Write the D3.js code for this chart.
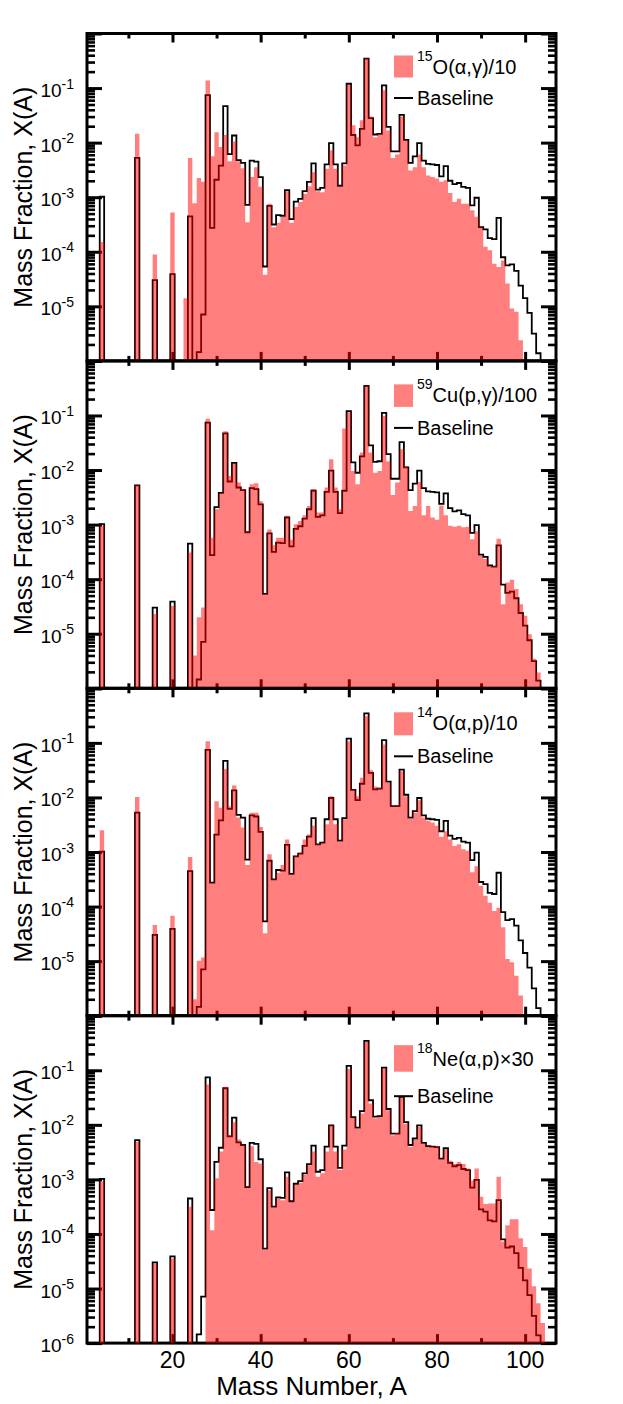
<!DOCTYPE html>
<html>
<head>
<meta charset="utf-8">
<script src="https://cdn.jsdelivr.net/npm/d3@7"></script>
<style>
body { margin: 0; background: #fff; }
svg { display: block; font-family: "Liberation Sans", Arial, Helvetica, sans-serif; }
</style>
</head>
<body>
<svg width="623" height="1404"></svg>
<script>
// mass numbers that carry a value in at least one run (0 = below plot floor)
const massNumber = [4, 12, 16, 20, 23, 24, 25, 26, 27,
  28, 29, 30, 31, 32, 33, 34, 35, 36, 37,
  38, 39, 40, 41, 42, 43, 44, 45, 46, 47,
  48, 49, 50, 51, 52, 53, 54, 55, 56, 57,
  58, 59, 60, 61, 62, 63, 64, 65, 66, 67,
  68, 69, 70, 71, 72, 73, 74, 75, 76, 77,
  78, 79, 80, 81, 82, 83, 84, 85, 86, 87,
  88, 89, 90, 91, 92, 93, 94, 95, 96, 97,
  98, 99, 100, 101, 102, 103, 104];

const baseline = [1.02e-3, 5.25e-3, 3.02e-5, 3.89e-5, 0, 4.47e-4, 0, 1.45e-6, 7.08e-6,
  7.41e-2, 2.75e-4, 2.09e-3, 3.80e-3, 4.68e-2, 6.17e-3, 1.35e-2, 4.79e-3, 4.27e-3, 7.24e-4,
  4.68e-3, 4.47e-3, 2.34e-3, 5.37e-5, 6.92e-4, 3.16e-4, 4.68e-4, 4.57e-4, 1.35e-3, 3.98e-4,
  8.32e-4, 9.33e-4, 1.29e-3, 1.91e-3, 4.17e-3, 1.38e-3, 1.48e-3, 3.98e-3, 9.77e-3, 3.98e-3,
  1.62e-3, 4.17e-3, 1.20e-1, 1.38e-2, 8.91e-3, 1.78e-2, 3.47e-1, 2.82e-2, 1.41e-2, 1.45e-2,
  1.12e-1, 1.95e-2, 6.92e-3, 6.92e-3, 3.24e-2, 1.12e-2, 4.27e-3, 5.62e-3, 9.77e-3, 4.68e-3,
  4.07e-3, 3.98e-3, 3.89e-3, 2.40e-3, 3.72e-3, 2.00e-3, 1.74e-3, 1.82e-3, 1.55e-3, 1.48e-3,
  7.08e-4, 9.77e-4, 2.82e-4, 2.57e-4, 1.78e-4, 1.70e-4, 4.17e-4, 7.94e-5, 5.62e-5, 5.89e-5,
  4.47e-5, 2.40e-5, 1.41e-5, 7.59e-6, 3.16e-6, 1.38e-6, 0];

const o15ag = [1.51e-4, 1.45e-2, 8.91e-5, 5.25e-4, 1.41e-5, 5.25e-3, 7.76e-4, 2.24e-3, 1.91e-3,
  1.38e-1, 5.62e-3, 1.55e-2, 8.32e-3, 1.38e-2, 4.57e-3, 1.05e-2, 4.57e-3, 3.39e-3, 3.47e-4,
  2.34e-3, 3.55e-3, 1.55e-3, 3.80e-5, 7.59e-4, 2.82e-4, 3.39e-4, 4.37e-4, 1.29e-3, 3.39e-4,
  6.61e-4, 8.13e-4, 1.15e-3, 1.58e-3, 2.88e-3, 1.29e-3, 1.23e-3, 3.31e-3, 7.24e-3, 3.31e-3,
  1.55e-3, 3.80e-3, 1.15e-1, 2.09e-2, 1.26e-2, 2.57e-2, 3.47e-1, 3.02e-2, 1.26e-2, 1.45e-2,
  9.12e-2, 1.66e-2, 5.25e-3, 6.03e-3, 3.02e-2, 1.10e-2, 3.09e-3, 3.55e-3, 6.03e-3, 3.55e-3,
  2.51e-3, 2.34e-3, 2.19e-3, 1.91e-3, 2.04e-3, 1.20e-3, 8.13e-4, 9.33e-4, 7.59e-4, 7.59e-4,
  5.75e-4, 4.37e-4, 2.82e-4, 1.23e-4, 1.07e-4, 6.03e-5, 5.25e-5, 6.92e-5, 2.63e-5, 9.12e-6,
  7.94e-6, 2.40e-6, 0, 0, 0, 0, 0];

const cu59pg = [9.55e-4, 5.25e-3, 2.29e-5, 3.24e-5, 0, 3.09e-4, 3.98e-6, 2.00e-5, 3.02e-5,
  8.71e-2, 5.75e-4, 1.91e-3, 3.72e-3, 5.13e-2, 7.76e-3, 1.32e-2, 5.89e-3, 4.47e-3, 7.41e-4,
  5.50e-3, 5.75e-3, 2.69e-3, 5.37e-5, 8.13e-4, 4.17e-4, 5.75e-4, 5.75e-4, 1.45e-3, 5.25e-4,
  1.02e-3, 1.17e-3, 1.48e-3, 2.19e-3, 4.47e-3, 1.66e-3, 1.66e-3, 4.79e-3, 1.58e-2, 4.79e-3,
  1.91e-3, 5.75e-2, 1.15e-1, 9.55e-3, 5.50e-3, 2.09e-2, 3.55e-1, 2.09e-2, 8.91e-3, 9.55e-3,
  9.77e-2, 1.45e-2, 3.47e-3, 5.89e-3, 2.40e-2, 1.17e-2, 1.78e-3, 2.19e-3, 6.03e-3, 1.48e-3,
  2.19e-3, 1.35e-3, 1.23e-3, 2.24e-3, 1.48e-3, 9.55e-4, 9.12e-4, 9.55e-4, 8.91e-4, 9.12e-4,
  5.37e-4, 7.59e-4, 2.69e-4, 2.34e-4, 1.74e-4, 1.74e-4, 5.50e-4, 3.47e-5, 8.71e-5, 9.77e-5,
  6.61e-5, 3.47e-5, 2.14e-5, 9.77e-6, 3.47e-6, 1.95e-6, 0];

const o14ap = [2.51e-3, 1.02e-2, 4.57e-5, 6.76e-5, 0, 8.13e-4, 2.00e-6, 1.02e-5, 1.17e-5,
  1.07e-1, 2.69e-4, 8.51e-3, 6.46e-3, 3.31e-2, 6.92e-3, 1.66e-2, 4.27e-3, 2.82e-3, 5.75e-4,
  5.25e-3, 5.25e-3, 2.88e-3, 3.24e-5, 9.12e-4, 3.16e-4, 4.17e-4, 5.75e-4, 1.70e-3, 3.89e-4,
  8.51e-4, 9.77e-4, 1.70e-3, 2.09e-3, 3.02e-3, 1.38e-3, 1.48e-3, 3.24e-3, 1.05e-2, 3.24e-3,
  1.58e-3, 3.98e-3, 1.07e-1, 1.41e-2, 1.05e-2, 2.29e-2, 3.09e-1, 3.16e-2, 1.58e-2, 1.51e-2,
  9.33e-2, 1.86e-2, 7.08e-3, 7.08e-3, 3.02e-2, 1.05e-2, 4.07e-3, 5.25e-3, 8.91e-3, 4.27e-3,
  3.72e-3, 3.47e-3, 3.02e-3, 1.91e-3, 2.40e-3, 1.70e-3, 1.29e-3, 1.38e-3, 1.12e-3, 1.05e-3,
  4.27e-4, 5.50e-4, 2.40e-4, 1.58e-4, 1.17e-4, 8.32e-5, 9.55e-5, 4.17e-5, 1.10e-5, 9.55e-6,
  5.37e-6, 2.34e-6, 0, 0, 0, 0, 0];

const ne18ap = [9.12e-4, 4.90e-3, 2.88e-5, 3.55e-5, 0, 3.16e-4, 0, 0, 0,
  5.50e-2, 1.17e-4, 1.05e-3, 3.24e-3, 5.01e-2, 6.46e-3, 1.12e-2, 5.37e-3, 4.37e-3, 7.08e-4,
  4.07e-3, 2.09e-3, 1.95e-3, 5.13e-5, 6.31e-4, 3.16e-4, 4.47e-4, 4.17e-4, 1.12e-3, 3.89e-4,
  7.94e-4, 8.71e-4, 1.20e-3, 1.82e-3, 3.24e-3, 1.12e-3, 1.29e-3, 3.24e-3, 9.77e-3, 3.24e-3,
  1.48e-3, 3.55e-3, 1.07e-1, 1.35e-2, 8.51e-3, 1.62e-2, 3.31e-1, 2.45e-2, 1.32e-2, 1.41e-2,
  1.07e-1, 1.86e-2, 6.46e-3, 7.08e-3, 3.24e-2, 1.05e-2, 3.98e-3, 5.25e-3, 9.12e-3, 4.57e-3,
  3.98e-3, 4.07e-3, 3.98e-3, 2.40e-3, 3.55e-3, 2.19e-3, 1.91e-3, 2.09e-3, 1.91e-3, 1.58e-3,
  9.55e-4, 1.58e-3, 4.79e-4, 3.55e-4, 3.63e-4, 3.63e-4, 1.12e-3, 7.24e-5, 1.45e-4, 1.86e-4,
  1.86e-4, 8.32e-5, 5.75e-5, 2.34e-5, 1.10e-5, 5.37e-6, 2.34e-6];

const runs = [o15ag, cu59pg, o14ap, ne18ap];
const runIsotope = ['15', '59', '14', '18'];
const runLabel = ['O(α,γ)/10', 'Cu(p,γ)/100', 'O(α,p)/10', 'Ne(α,p)×30'];

const xTickMajor = [20, 40, 60, 80, 100];
const xTickMinor = [10, 30, 50, 70, 90];
const yTickExponents = ['-1', '-2', '-3', '-4', '-5', '-6'];

const svg = d3.select('svg');

const plotLeft = 87;
const plotRight = 556;
const plotTop = 33.5;
const panelHeight = 327.4;
const floor = 1e-6;

const x = d3.scaleLinear().domain([0.61, 107]).range([plotLeft, plotRight]);

// per-panel legend placement (offsets from panel top)
const legendLayout = [
  { boxTop: 22, boxH: 22, text: 40.5, line: 64.5 },
  { boxTop: 23.5, boxH: 22.5, text: 41, line: 67 },
  { boxTop: 24, boxH: 23, text: 41.5, line: 68 },
  { boxTop: 29.5, boxH: 26.5, text: 50.5, line: 80.5 }
];

function stepPoints(values) {
  const byA = new Map(massNumber.map((a, i) => [a, values[i]]));
  const pts = [];
  for (let a = 0; a <= 108; a++) {
    const v = Math.max(byA.get(a) || 0, floor);
    pts.push([a - 0.5, v], [a + 0.5, v]);
  }
  return pts;
}

function styleTicks(sel, w) {
  sel.select('.domain').remove();
  sel.selectAll('.tick line').attr('stroke', '#000').attr('stroke-width', w);
}

runs.forEach((run, i) => {
  const top = plotTop + i * panelHeight;
  const bottom = top + panelHeight;
  const y = d3.scaleLog().domain([floor, 1]).range([bottom, top]);

  const allY = y.ticks();
  const majorY = allY.filter(v => Math.abs(Math.log10(v) - Math.round(Math.log10(v))) < 1e-9);
  const minorY = allY.filter(v => !majorY.includes(v));

  const g = svg.append('g');

  svg.append('clipPath').attr('id', 'clip' + i)
    .append('rect')
    .attr('x', plotLeft).attr('y', top)
    .attr('width', plotRight - plotLeft).attr('height', panelHeight);

  // ticks, all pointing inward
  g.append('g').attr('transform', `translate(${plotLeft},0)`)
    .call(d3.axisLeft(y).tickValues(majorY).tickSize(-15).tickFormat(''))
    .call(styleTicks, 3);
  g.append('g').attr('transform', `translate(${plotLeft},0)`)
    .call(d3.axisLeft(y).tickValues(minorY).tickSize(-8).tickFormat(''))
    .call(styleTicks, 2.6);
  g.append('g').attr('transform', `translate(${plotRight},0)`)
    .call(d3.axisRight(y).tickValues(majorY).tickSize(-15).tickFormat(''))
    .call(styleTicks, 3);
  g.append('g').attr('transform', `translate(${plotRight},0)`)
    .call(d3.axisRight(y).tickValues(minorY).tickSize(-8).tickFormat(''))
    .call(styleTicks, 2.6);
  g.append('g').attr('transform', `translate(0,${top})`)
    .call(d3.axisTop(x).tickValues(xTickMajor).tickSize(-9).tickFormat(''))
    .call(styleTicks, 3);
  g.append('g').attr('transform', `translate(0,${top})`)
    .call(d3.axisTop(x).tickValues(xTickMinor).tickSize(-5).tickFormat(''))
    .call(styleTicks, 3);
  g.append('g').attr('transform', `translate(0,${bottom})`)
    .call(d3.axisBottom(x).tickValues(xTickMajor).tickSize(-9).tickFormat(''))
    .call(styleTicks, 3);
  g.append('g').attr('transform', `translate(0,${bottom})`)
    .call(d3.axisBottom(x).tickValues(xTickMinor).tickSize(-5).tickFormat(''))
    .call(styleTicks, 3);

  g.append('rect')
    .attr('x', plotLeft).attr('y', top)
    .attr('width', plotRight - plotLeft).attr('height', panelHeight)
    .attr('fill', 'none').attr('stroke', '#000').attr('stroke-width', 3);

  // y tick labels
  const labelled = i === runs.length - 1 ? yTickExponents : yTickExponents.slice(0, 5);
  labelled.forEach(e => {
    const ty = y(+('1e' + e));
    const t = g.append('text')
      .attr('x', 74).attr('y', ty + 9)
      .attr('text-anchor', 'end')
      .attr('font-size', 19);
    t.append('tspan').text('10');
    t.append('tspan').attr('font-size', 14).attr('dy', -8.5).text(e);
  });

  // y axis title
  g.append('text')
    .attr('transform', `translate(32,${(top + bottom) / 2}) rotate(-90)`)
    .attr('text-anchor', 'middle')
    .attr('font-size', 25)
    .text('Mass Fraction, X(A)');

  // baseline step line
  const line = d3.line().x(d => x(d[0])).y(d => y(d[1]));
  g.append('path')
    .datum(stepPoints(baseline))
    .attr('clip-path', `url(#clip${i})`)
    .attr('d', line)
    .attr('fill', 'none')
    .attr('stroke', '#000')
    .attr('stroke-width', 1.8);

  // modified-rate histogram, translucent red on top
  const area = d3.area().x(d => x(d[0])).y0(y(floor)).y1(d => y(d[1]));
  g.append('path')
    .datum(stepPoints(run))
    .attr('clip-path', `url(#clip${i})`)
    .attr('d', area)
    .attr('fill', '#ff0000')
    .attr('fill-opacity', 0.5);

  // legend
  const L = legendLayout[i];
  g.append('rect')
    .attr('x', 394).attr('y', top + L.boxTop)
    .attr('width', 19).attr('height', L.boxH)
    .attr('fill', '#ff0000').attr('fill-opacity', 0.5);
  const lt = g.append('text')
    .attr('x', 417).attr('y', top + L.text)
    .attr('font-size', 20);
  lt.append('tspan').attr('font-size', 14).attr('dy', -13).text(runIsotope[i]);
  lt.append('tspan').attr('dy', 13).text(runLabel[i]);

  g.append('line')
    .attr('x1', 394).attr('x2', 413)
    .attr('y1', top + L.line).attr('y2', top + L.line)
    .attr('stroke', '#000').attr('stroke-width', 2);
  g.append('text')
    .attr('x', 417).attr('y', top + L.line + 7)
    .attr('font-size', 20)
    .text('Baseline');
});

// x tick labels and title under the last panel
const lastBottom = plotTop + runs.length * panelHeight;
svg.append('g').selectAll('text')
  .data(xTickMajor)
  .join('text')
  .attr('x', d => x(d))
  .attr('y', lastBottom + 24.5)
  .attr('text-anchor', 'middle')
  .attr('font-size', 23)
  .text(d => d);

svg.append('text')
  .attr('x', 311.5)
  .attr('y', 1395)
  .attr('text-anchor', 'middle')
  .attr('font-size', 26)
  .text('Mass Number, A');
</script>
</body>
</html>
